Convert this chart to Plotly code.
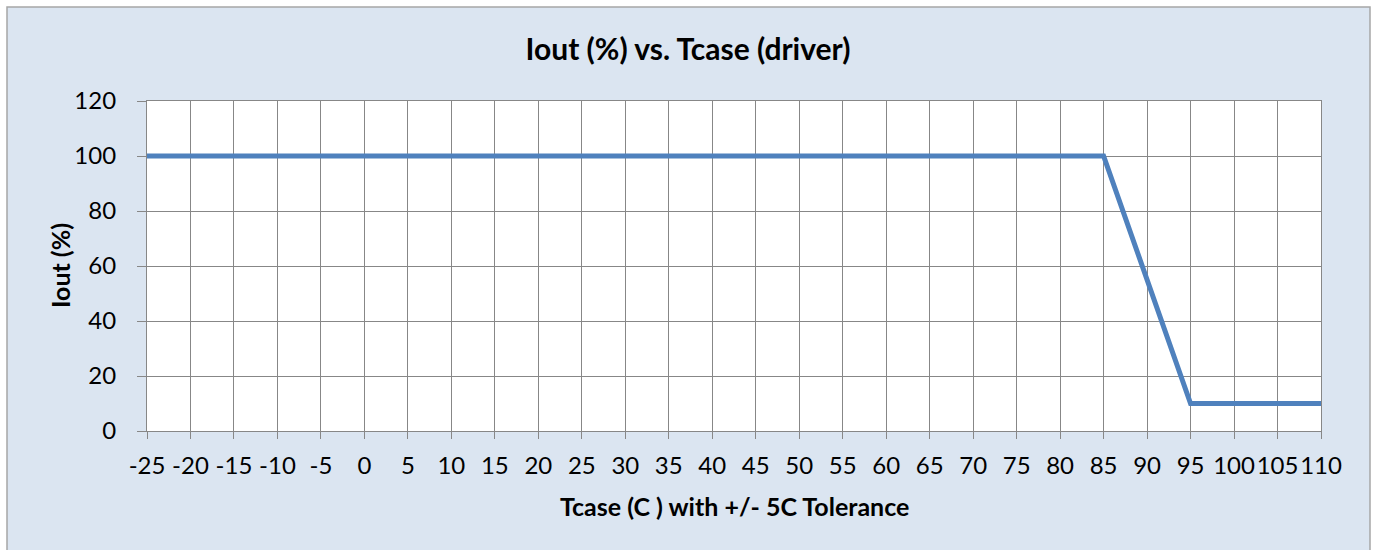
import plotly.graph_objects as go

# Data
tcase = [-25, 85, 95, 110]
iout = [100, 100, 10, 10]
x_ticks = list(range(-25, 111, 5))
y_ticks = [0, 20, 40, 60, 80, 100, 120]

W, H = 1374, 550
L, R, T, B = 147, 53, 101, 119
pw, ph = W - L - R, H - T - B

def px2x(px):
    return (px - L) / pw

def px2y(py):
    return (H - B - py) / ph

FONT = "Lato"
grid = "#878787"

fig = go.Figure()
fig.add_trace(go.Scatter(x=tcase, y=iout, mode="lines",
                         line=dict(color="#4F81BD", width=5),
                         showlegend=False, hoverinfo="skip"))

shapes = [
    # white outside the chart frame
    dict(type="rect", xref="paper", yref="paper", x0=px2x(-5), x1=px2x(7), y0=px2y(600), y1=px2y(-5),
         fillcolor="white", line=dict(width=0), layer="above"),
    dict(type="rect", xref="paper", yref="paper", x0=px2x(-5), x1=px2x(1380), y0=px2y(7), y1=px2y(-5),
         fillcolor="white", line=dict(width=0), layer="above"),
    dict(type="rect", xref="paper", yref="paper", x0=px2x(1370), x1=px2x(1380), y0=px2y(600), y1=px2y(-5),
         fillcolor="white", line=dict(width=0), layer="above"),
    # frame border
    dict(type="rect", xref="paper", yref="paper", x0=px2x(7), x1=px2x(1370), y0=px2y(570), y1=px2y(7),
         fillcolor="rgba(0,0,0,0)", line=dict(color="#A6A6A6", width=1.5), layer="above"),
]

annotations = [
    dict(text="<b>Tcase (C ) with +/- 5C Tolerance</b>", xref="paper", yref="paper",
         x=px2x(734), y=px2y(506), xanchor="center", yanchor="middle", showarrow=False,
         font=dict(family=FONT, size=25, color="black")),
    dict(text="<b>Iout (%)</b>", xref="paper", yref="paper", textangle=-90,
         x=px2x(60), y=px2y(266), xanchor="center", yanchor="middle", showarrow=False,
         font=dict(family=FONT, size=25, color="black")),
]

fig.update_layout(
    width=W, height=H,
    margin=dict(l=L, r=R, t=T, b=B, autoexpand=False),
    paper_bgcolor="#DBE5F1",
    plot_bgcolor="white",
    shapes=shapes,
    annotations=annotations,
    title=dict(text="<b>Iout (%) vs. Tcase (driver)</b>", x=688 / W,
               xanchor="center", y=1 - 49 / H, yanchor="middle",
               font=dict(family=FONT, size=30, color="black")),
    font=dict(family=FONT, color="black"),
    xaxis=dict(range=[-25, 110], tickvals=x_ticks, ticktext=[str(v) for v in x_ticks],
               tickangle=0,
               showgrid=True, gridcolor=grid, gridwidth=1.2,
               showline=True, linecolor=grid, linewidth=1.2, mirror=True,
               ticks="outside", ticklen=7, tickcolor=grid, tickwidth=1.2,
               tickfont=dict(family=FONT, size=24, color="black"),
               ticklabelstandoff=6,
               zeroline=False),
    yaxis=dict(range=[0, 120], tickvals=y_ticks,
               showgrid=True, gridcolor=grid, gridwidth=1.2,
               showline=True, linecolor=grid, linewidth=1.2, mirror=True,
               ticks="outside", ticklen=9, tickcolor=grid, tickwidth=1.2,
               tickfont=dict(family=FONT, size=24, color="black"),
               ticklabelstandoff=16,
               zeroline=False),
)

fig.write_html("out.html", config={"displayModeBar": False},
               post_script="document.body.style.margin='0px';")
